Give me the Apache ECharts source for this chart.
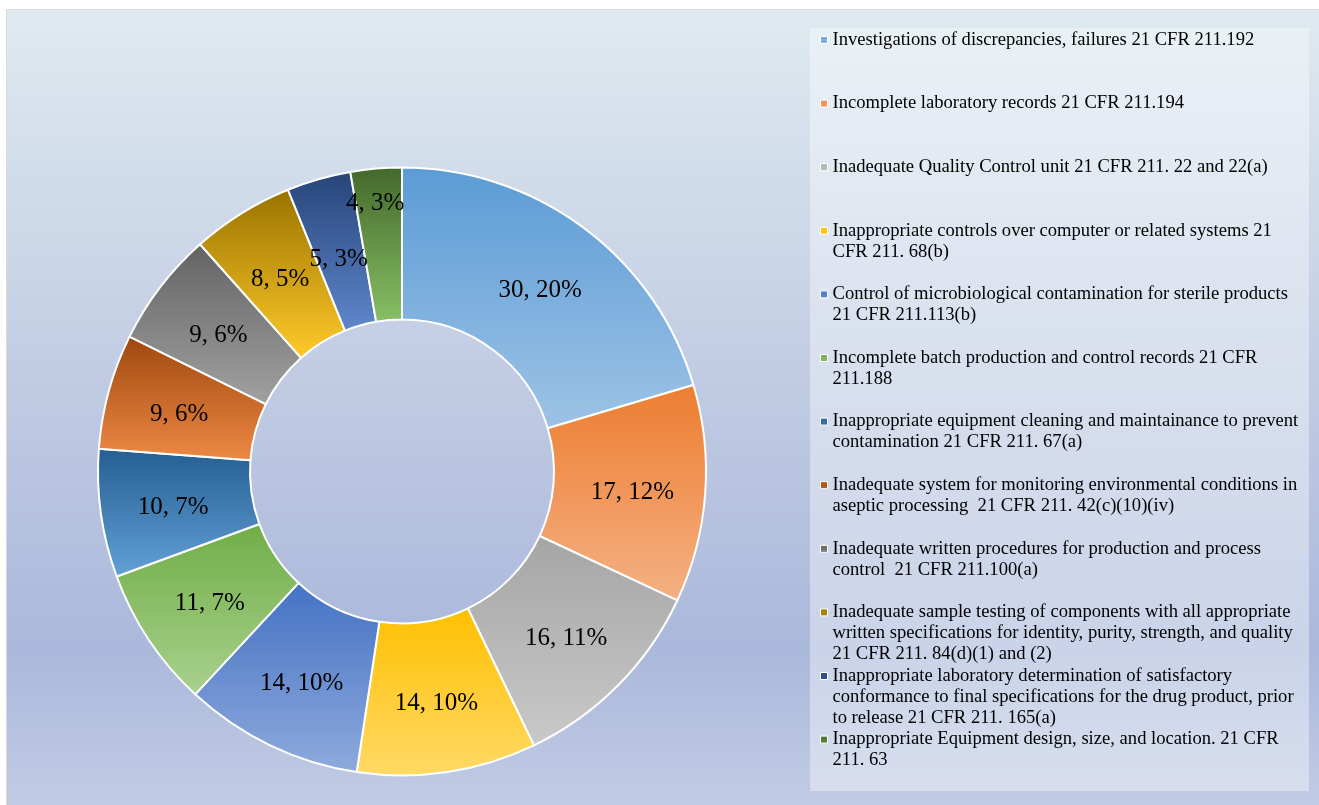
<!DOCTYPE html>
<html>
<head>
<meta charset="utf-8">
<script src="https://cdn.jsdelivr.net/npm/echarts@6/dist/echarts.min.js"></script>
<style>
html, body { margin: 0; padding: 0; background: #fff; }
#main { width: 1319px; height: 805px; }
</style>
</head>
<body>
<div id="main"></div>
<script>
// 483 FDA warning letter observations, by category
var categories = [
    'Investigations of discrepancies, failures 21 CFR 211.192',
    'Incomplete laboratory records 21 CFR 211.194',
    'Inadequate Quality Control unit 21 CFR 211. 22 and 22(a)',
    'Inappropriate controls over computer or related systems 21\nCFR 211. 68(b)',
    'Control of microbiological contamination for sterile products\n21 CFR 211.113(b)',
    'Incomplete batch production and control records 21 CFR\n211.188',
    'Inappropriate equipment cleaning and maintainance to prevent\ncontamination 21 CFR 211. 67(a)',
    'Inadequate system for monitoring environmental conditions in\naseptic processing  21 CFR 211. 42(c)(10)(iv)',
    'Inadequate written procedures for production and process\ncontrol  21 CFR 211.100(a)',
    'Inadequate sample testing of components with all appropriate\nwritten specifications for identity, purity, strength, and quality\n21 CFR 211. 84(d)(1) and (2)',
    'Inappropriate laboratory determination of satisfactory\nconformance to final specifications for the drug product, prior\nto release 21 CFR 211. 165(a)',
    'Inappropriate Equipment design, size, and location. 21 CFR\n211. 63'
];
var counts = [30, 17, 16, 14, 14, 11, 10, 9, 9, 8, 5, 4];

var palette = ['#5B9BD5', '#ED7D31', '#A5A5A5', '#FFC000', '#4472C4', '#70AD47',
               '#255E91', '#9E480E', '#636363', '#997300', '#264478', '#43682B'];

// excel style gradient: base colour on top, lighter tint at the bottom
function lighter(hex, k) {
    var r = parseInt(hex.substr(1, 2), 16) / 255,
        g = parseInt(hex.substr(3, 2), 16) / 255,
        b = parseInt(hex.substr(5, 2), 16) / 255;
    var max = Math.max(r, g, b), min = Math.min(r, g, b);
    var h = 0, s = 0, l = (max + min) / 2;
    if (max !== min) {
        var d = max - min;
        s = l > 0.5 ? d / (2 - max - min) : d / (max + min);
        if (max === r) h = (g - b) / d + (g < b ? 6 : 0);
        else if (max === g) h = (b - r) / d + 2;
        else h = (r - g) / d + 4;
        h /= 6;
    }
    l = l + (1 - l) * k;
    function hue(p, q, t) {
        if (t < 0) t += 1;
        if (t > 1) t -= 1;
        if (t < 1 / 6) return p + (q - p) * 6 * t;
        if (t < 1 / 2) return q;
        if (t < 2 / 3) return p + (q - p) * (2 / 3 - t) * 6;
        return p;
    }
    var q = l < 0.5 ? l * (1 + s) : l + s - l * s, p = 2 * l - q;
    var rgb = [hue(p, q, h + 1 / 3), hue(p, q, h), hue(p, q, h - 1 / 3)];
    return 'rgb(' + rgb.map(function (v) { return Math.round(v * 255); }).join(',') + ')';
}

var pieData = counts.map(function (v, i) {
    return {
        value: v,
        name: categories[i],
        itemStyle: {
            color: {
                type: 'linear', x: 0, y: 0, x2: 0, y2: 1,
                colorStops: [
                    { offset: 0, color: palette[i] },
                    { offset: 1, color: lighter(palette[i], 0.4) }
                ]
            }
        }
    };
});
// excel nudged the two thin slices' labels apart
pieData[10].label = { offset: [0, 10] };
pieData[11].label = { offset: [-7, -38] };

// one legend per entry so every entry keeps the same slot height,
// marker sits on the first text line
var LINE = 21;
var legends = categories.map(function (name, i) {
    var lines = name.split('\n').length;
    return {
        data: [name],
        orient: 'vertical',
        left: 820,
        top: 29 + i * 63.6,
        padding: 0,
        itemWidth: 7,
        itemHeight: lines * LINE,
        icon: 'path://M0 0M0 7h7v7h-7zM7 ' + (lines * LINE),
        selectedMode: false,
        itemStyle: { borderColor: '#ffffff', borderWidth: 1 },
        textStyle: {
            fontFamily: 'Liberation Serif',
            fontSize: 18.6,
            color: '#000',
            lineHeight: LINE
        }
    };
});

var myChart = echarts.init(document.getElementById('main'));

var option = {
    animation: false,
    graphic: [{
        type: 'rect',
        z: -10,
        shape: { x: 6.5, y: 9.5, width: 1320, height: 800 },
        style: {
            stroke: '#d9d9d9',
            lineWidth: 1,
            fill: {
                type: 'linear', x: 0, y: 0, x2: 0, y2: 1,
                colorStops: [
                    { offset: 0, color: '#dfeaf0' },
                    { offset: 0.47, color: '#c0cbe3' },
                    { offset: 0.8, color: '#aab8db' },
                    { offset: 1, color: '#c2cce5' }
                ]
            }
        }
    }, {
        type: 'rect',
        z: -9,
        shape: { x: 810, y: 28, width: 499, height: 763 },
        style: { fill: 'rgba(255,255,255,0.38)' }
    }],
    legend: legends,
    series: [{
        type: 'pie',
        center: [402, 471.5],
        radius: [152, 304],
        startAngle: 90,
        clockwise: true,
        percentPrecision: 0,
        avoidLabelOverlap: false,
        itemStyle: {
            borderColor: '#ffffff',
            borderWidth: 2
        },
        label: {
            show: true,
            position: 'inside',
            formatter: '{c}, {d}%',
            fontFamily: 'Liberation Serif',
            fontSize: 25,
            color: '#000',
            offset: [0, 4]
        },
        labelLine: { show: false },
        emphasis: { disabled: true },
        data: pieData
    }]
};

myChart.setOption(option);
</script>
</body>
</html>
